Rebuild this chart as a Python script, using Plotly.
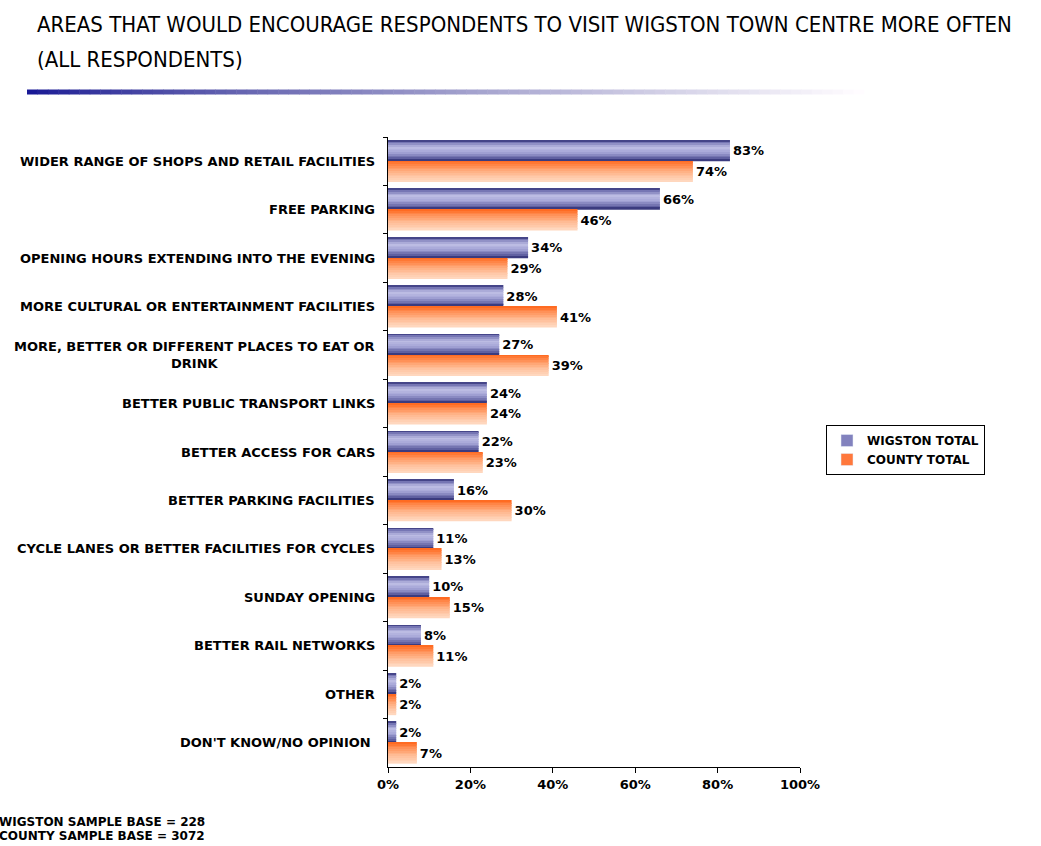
import plotly.graph_objects as go

# Survey results: share of respondents naming each improvement
categories = [
    "WIDER RANGE OF SHOPS AND RETAIL FACILITIES",
    "FREE PARKING",
    "OPENING HOURS EXTENDING INTO THE EVENING",
    "MORE CULTURAL OR ENTERTAINMENT FACILITIES",
    "MORE, BETTER OR DIFFERENT PLACES TO EAT OR<br>DRINK",
    "BETTER PUBLIC TRANSPORT LINKS",
    "BETTER ACCESS FOR CARS",
    "BETTER PARKING FACILITIES",
    "CYCLE LANES OR BETTER FACILITIES FOR CYCLES",
    "SUNDAY OPENING",
    "BETTER RAIL NETWORKS",
    "OTHER",
    "DON'T KNOW/NO OPINION ",
]
wigston_total = [83, 66, 34, 28, 27, 24, 22, 16, 11, 10, 8, 2, 2]
county_total = [74, 46, 29, 41, 39, 24, 23, 30, 13, 15, 11, 2, 7]
x_ticks = [0, 20, 40, 60, 80, 100]

title_lines = [
    "AREAS THAT WOULD ENCOURAGE RESPONDENTS TO VISIT WIGSTON TOWN CENTRE MORE OFTEN",
    "(ALL RESPONDENTS)",
]
footnotes = ["WIGSTON SAMPLE BASE = 228", "COUNTY SAMPLE BASE = 3072"]

FONT = "DejaVu Sans"
TITLE_FONT = "DejaVu Sans Condensed, Liberation Sans, sans-serif"
BAR_W = 0.43
N_STRIPS = 12

# colour stops from top edge (0) to bottom edge (1) of each bar
blue_stops = [(0.0, (40, 40, 110)), (0.1, (110, 110, 175)), (0.35, (190, 190, 228)),
              (0.6, (165, 165, 215)), (0.88, (95, 95, 160)), (1.0, (40, 40, 110))]
orange_stops = [(0.0, (255, 100, 25)), (0.25, (255, 140, 80)), (0.6, (255, 185, 145)),
                (1.0, (255, 218, 195))]


def lerp_colour(stops, t):
    for (t0, c0), (t1, c1) in zip(stops, stops[1:]):
        if t0 <= t <= t1:
            f = (t - t0) / (t1 - t0) if t1 > t0 else 0
            return "rgb(%d,%d,%d)" % tuple(round(a + (b - a) * f) for a, b in zip(c0, c1))
    return "rgb(%d,%d,%d)" % stops[-1][1]


fig = go.Figure()


def add_series(values, name, stops, offset0, legend_colour):
    step = BAR_W / N_STRIPS
    for i in range(N_STRIPS):
        t = (i + 0.5) / N_STRIPS
        fig.add_trace(go.Bar(
            y=categories, x=values, orientation="h",
            width=step * 1.02, offset=offset0 + i * step,
            marker=dict(color=lerp_colour(stops, t), line=dict(width=0)),
            name=name, legendgroup=name, showlegend=False, hoverinfo="skip",
        ))
    # full-height carrier for the value labels
    fig.add_trace(go.Bar(
        y=categories, x=values, orientation="h",
        width=BAR_W, offset=offset0,
        marker=dict(color="rgba(0,0,0,0)", line=dict(width=0)),
        text=[f"{v}%" for v in values], textposition="outside",
        textfont=dict(family=FONT, size=13, color="black", weight="bold"),
        cliponaxis=False, name=name, legendgroup=name, showlegend=False,
    ))
    # legend swatch
    fig.add_trace(go.Bar(
        y=[None], x=[None], orientation="h", name=name, legendgroup=name,
        marker=dict(color=legend_colour), showlegend=True,
    ))


add_series(wigston_total, "WIGSTON TOTAL", blue_stops, -BAR_W, "rgb(130,130,190)")
add_series(county_total, "COUNTY TOTAL", orange_stops, 0.0, "rgb(255,120,60)")

# category labels, centred line by line
for c in categories:
    fig.add_annotation(
        x=0, y=c, xref="paper", yref="y", xanchor="right", yanchor="middle",
        xshift=-11, text=c, showarrow=False, align="center",
        font=dict(family=FONT, size=13, color="black", weight="bold"),
    )

# title
for i, line in enumerate(title_lines):
    fig.add_annotation(
        xref="paper", yref="paper", x=(35 - 388) / 412, y=1 + (137 - (25 + 34 * i)) / 630,
        xanchor="left", yanchor="middle", text=line, showarrow=False,
        font=dict(family=TITLE_FONT, size=22, color="black"),
    )

# fading rule under the title
seg = 80
x0_px, x1_px = 27, 864
for i in range(seg):
    t = i / (seg - 1)
    r = round(25 + (255 - 25) * t ** 0.8)
    g = round(25 + (252 - 25) * t ** 0.8)
    b = round(150 + (255 - 150) * t)
    a_px = x0_px + (x1_px - x0_px) * i / seg
    b_px = x0_px + (x1_px - x0_px) * (i + 1) / seg + 0.5
    fig.add_shape(
        type="rect", xref="paper", yref="paper", layer="above",
        x0=(a_px - 388) / 412, x1=(b_px - 388) / 412,
        y0=1 + (137 - 94.5) / 630, y1=1 + (137 - 89.5) / 630,
        fillcolor=f"rgb({r},{g},{b})", line=dict(width=0),
    )

# sample bases
for i, note in enumerate(footnotes):
    fig.add_annotation(
        xref="paper", yref="paper", x=(-3 - 388) / 412, y=-(822 + 14 * i - 767) / 630,
        xanchor="left", yanchor="middle", text=note, showarrow=False,
        font=dict(family=FONT, size=12, color="black", weight="bold"),
    )

fig.update_layout(
    width=1041, height=846,
    margin=dict(l=388, r=241, t=137, b=79),
    paper_bgcolor="white", plot_bgcolor="white",
    barmode="overlay", bargap=0.14,
    showlegend=True,
    legend=dict(
        x=(826 - 388) / 412, y=(767 - 425) / 630, xanchor="left", yanchor="top",
        bordercolor="black", borderwidth=1, bgcolor="white",
        font=dict(family=FONT, size=12, color="black", weight="bold"),
        itemwidth=30, tracegroupgap=0,
    ),
    xaxis=dict(
        range=[0, 100], tickvals=x_ticks, ticktext=[f"{v}%" for v in x_ticks],
        showgrid=False, zeroline=False, showline=True, linecolor="black", linewidth=1,
        ticks="outside", ticklen=5, tickcolor="black",
        tickfont=dict(family=FONT, size=13, color="black", weight="bold"),
    ),
    yaxis=dict(
        type="category", categoryorder="array", categoryarray=categories,
        autorange="reversed", showticklabels=False,
        showgrid=False, zeroline=False, showline=True, linecolor="black", linewidth=1,
        ticks="outside", ticklen=4, tickcolor="black", tickson="boundaries",
    ),
)

fig.write_html("out.html")
